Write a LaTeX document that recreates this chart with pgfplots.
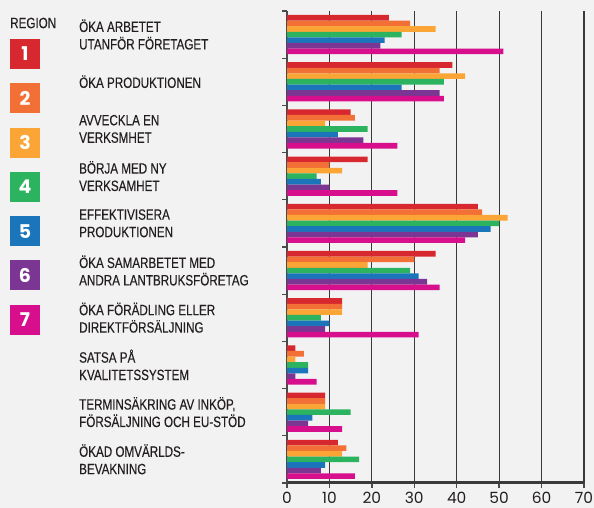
\documentclass[border=0pt]{standalone}
\usepackage{pgfplots}
\usepackage{pgfplotstable}
\pgfplotsset{compat=1.18}
\usepackage{fontspec}
\setmainfont{Liberation Sans}
\newfontfamily\condfont{Liberation Sans}[FakeStretch=0.78,FakeBold=0.3]
\newfontfamily\numfont{Poppins}

\definecolor{bg}{HTML}{F2F2F2}
\definecolor{txt}{HTML}{231F20}
\definecolor{axisc}{HTML}{4A4A4A}
\definecolor{gridc}{HTML}{3A3A3A}
\definecolor{r1}{HTML}{D7282F}
\definecolor{r2}{HTML}{F26F36}
\definecolor{r3}{HTML}{FBA536}
\definecolor{r4}{HTML}{2BB35F}
\definecolor{r5}{HTML}{1B75BB}
\definecolor{r6}{HTML}{7B3593}
\definecolor{r7}{HTML}{D70F8C}

% y = category centre, top category at 9.5
\pgfplotstableread{
y   r  o  yl g  b  p  m
9.5 24 29 35 27 23 22 51
8.5 39 36 42 37 27 36 37
7.5 15 16 9  19 12 18 26
6.5 19 10 13 7  8  10 26
5.5 45 46 52 50 48 45 42
4.5 35 30 19 29 31 33 36
3.5 13 13 13 8  10 9  31
2.5 2  4  2  5  5  2  7
1.5 9  9  9  15 6  5  13
0.5 12 14 13 17 9  8  16
}\datatab

\begin{document}
\begin{tikzpicture}
\useasboundingbox (0bp,0bp) rectangle (594bp,508bp);
\clip (0bp,0bp) rectangle (594bp,508bp);
\fill[bg] (0bp,0bp) rectangle (594bp,508bp);

\begin{axis}[
    at={(287bp,25bp)}, anchor=south west,
    scale only axis, width=297bp, height=472bp,
    xmin=0, xmax=70, ymin=0, ymax=10,
    axis x line*=bottom, axis y line*=left,
    xtick={0,10,...,70},
    ytick={0,1,...,10}, yticklabel=\empty,
    tick align=outside,
    major tick length=5bp,
    tick style={draw=axisc, line width=1.3bp},
    axis line style={draw=axisc, line width=1.3bp},
    x axis line style={draw=gridc, line width=3bp},
    xmajorgrids,
    grid style={draw=gridc, line width=1.2bp},
    /pgf/number format/assume math mode=true,
    xticklabel style={font=\numfont\fontsize{15.5}{15.5}\selectfont, text=txt,
        inner sep=0pt, yshift=-4bp},
    xbar, bar width=5.6bp,
    clip=false,
]
\addplot[draw=none, fill=r1, bar shift=16.8bp] table[x=r, y=y] {\datatab};
\addplot[draw=none, fill=r2, bar shift=11.2bp] table[x=o, y=y] {\datatab};
\addplot[draw=none, fill=r3, bar shift=5.6bp] table[x=yl, y=y] {\datatab};
\addplot[draw=none, fill=r4, bar shift=0bp] table[x=g, y=y] {\datatab};
\addplot[draw=none, fill=r5, bar shift=-5.6bp] table[x=b, y=y] {\datatab};
\addplot[draw=none, fill=r6, bar shift=-11.2bp] table[x=p, y=y] {\datatab};
\addplot[draw=none, fill=r7, bar shift=-16.8bp] table[x=m, y=y] {\datatab};
\end{axis}

% category labels
\tikzset{cat/.style={anchor=west, align=left, inner sep=0pt, text=txt,
    font=\condfont\fontsize{15}{17.5}\selectfont}}
\node[cat] at (79bp,473.5bp) {ÖKA ARBETET\\UTANFÖR FÖRETAGET};
\node[cat] at (79bp,426.3bp) {ÖKA PRODUKTIONEN};
\node[cat] at (79bp,379.1bp) {AVVECKLA EN\\VERKSMHET};
\node[cat] at (79bp,331.9bp) {BÖRJA MED NY\\VERKSAMHET};
\node[cat] at (79bp,284.7bp) {EFFEKTIVISERA\\PRODUKTIONEN};
\node[cat] at (79bp,237.5bp) {ÖKA SAMARBETET MED\\ANDRA LANTBRUKSFÖRETAG};
\node[cat] at (79bp,190.3bp) {ÖKA FÖRÄDLING ELLER\\DIREKTFÖRSÄLJNING};
\node[cat] at (79bp,143.1bp) {SATSA PÅ\\KVALITETSSYSTEM};
\node[cat] at (79bp,95.9bp) {TERMINSÄKRING AV INKÖP,\\FÖRSÄLJNING OCH EU-STÖD};
\node[cat] at (79bp,48.7bp) {ÖKAD OMVÄRLDS-\\BEVAKNING};

% legend
\node[cat] at (10bp,485bp) {REGION};
\tikzset{sq/.style={minimum size=30bp, inner sep=0pt, text=white,
    font=\numfont\bfseries\fontsize{19}{19}\selectfont}}
\node[sq, fill=r1] at (25bp,454bp) {1};
\node[sq, fill=r2] at (25bp,409.7bp) {2};
\node[sq, fill=r3] at (25bp,365.4bp) {3};
\node[sq, fill=r4] at (25bp,321.1bp) {4};
\node[sq, fill=r5] at (25bp,276.8bp) {5};
\node[sq, fill=r6] at (25bp,232.5bp) {6};
\node[sq, fill=r7] at (25bp,188.2bp) {7};
\end{tikzpicture}
\end{document}
